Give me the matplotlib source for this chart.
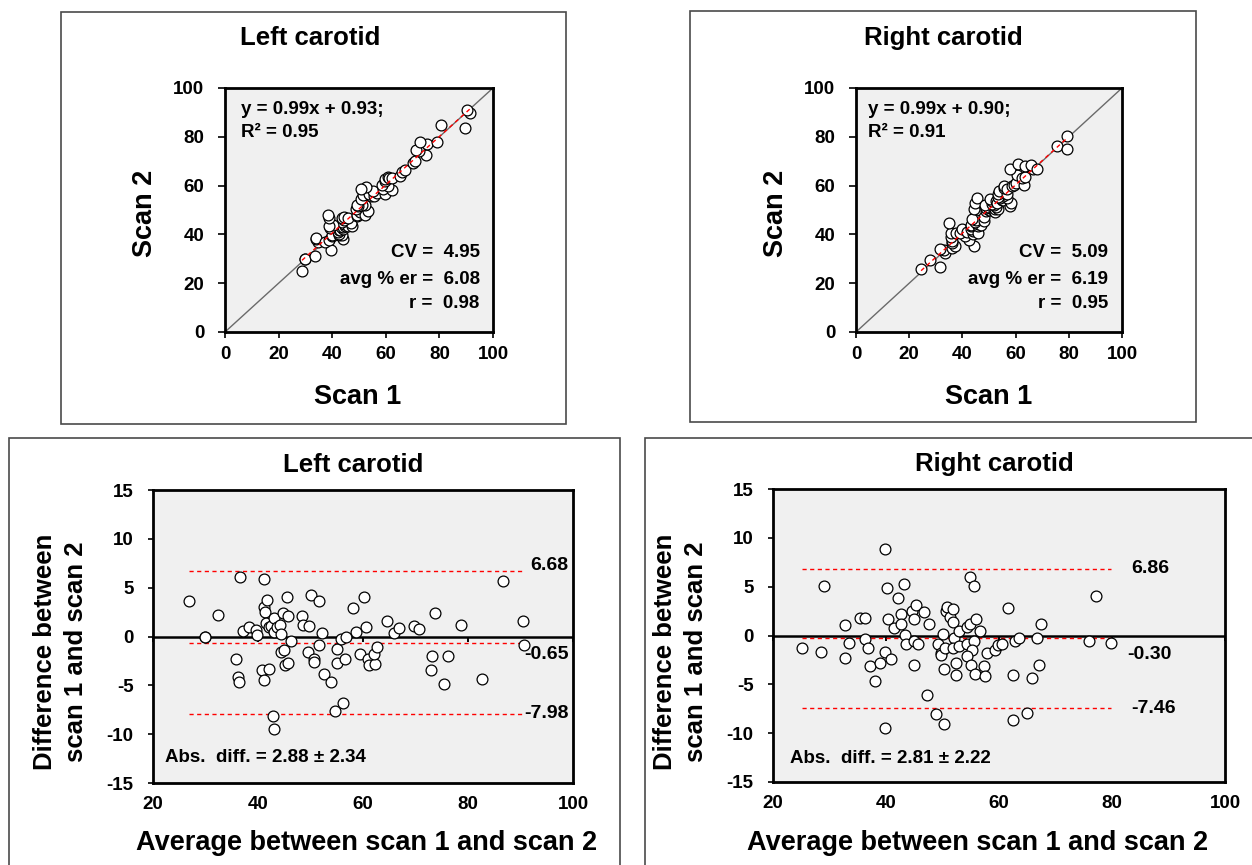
import matplotlib
matplotlib.use("Agg")
import matplotlib.pyplot as plt
import numpy as np
from matplotlib.patches import Rectangle

plt.rcParams['font.family'] = ['Liberation Sans', 'DejaVu Sans']
plt.rcParams['font.weight'] = 'bold'
plt.rcParams['axes.unicode_minus'] = False

# ---------------- data ----------------
# Bland-Altman coordinates: average of the two scans and difference (scan 1 - scan 2)
left_avg = [26.9, 29.9, 29.9, 32.3, 36.6, 35.8, 36.1, 36.4, 37.1, 38.3, 39.6, 39.9,
            41.1, 41.1, 41.7, 41.4, 41.6, 42.1, 42.5, 43.0, 43.1, 43.7, 44.1, 44.4,
            44.7, 45.5, 45.8, 44.3, 45.0, 40.8, 42.0, 41.2, 45.2, 45.8, 42.8, 43.1,
            46.3, 48.4, 48.6, 49.8, 50.0, 51.6, 52.2, 51.6, 49.5, 50.7, 50.6, 52.5,
            53.9, 55.1, 55.1, 55.8, 56.8, 56.5, 56.1, 54.6, 58.1, 58.7, 60.2, 60.5,
            59.5, 60.9, 61.2, 62.2, 62.1, 62.7, 64.6, 65.9, 66.8, 69.7, 70.6, 73.8,
            73.2, 76.2, 72.9, 75.4, 78.6, 82.7, 86.6, 90.5, 90.7]
left_diff = [3.68, 0.00, -0.10, 2.20, 6.12, -2.30, -4.16, -4.64, 0.58, 0.93, 0.65, 0.17,
             5.84, 3.06, 3.75, 2.54, 1.34, 0.93, 1.10, 1.89, 0.41, 0.93, 1.20, 0.24,
             2.37, 4.09, 2.06, -1.58, -1.41, -3.47, -3.30, -4.50, -2.92, -2.71, -8.10, -9.45,
             -0.45, 2.06, 1.17, 1.03, 4.26, 3.68, 0.31, -0.86, -1.58, -2.27, -2.58, -3.88,
             -4.64, -1.24, -2.75, -0.27, -0.10, -2.34, -6.80, -7.66, 2.92, 0.48, 4.09, 0.93,
             -1.82, -2.27, -2.92, -2.85, -1.82, -1.03, 1.62, 0.31, 0.82, 1.03, 0.76, 2.37,
             -1.99, -1.99, -3.47, -4.91, 1.20, -4.33, 5.67, 1.62, -0.86]

right_avg = [25.1, 28.5, 29.1, 32.8, 33.4, 32.8, 35.4, 36.2, 36.3, 36.8, 37.2, 38.1,
             39.0, 39.8, 40.1, 40.3, 39.8, 40.9, 41.4, 39.9, 42.1, 42.7, 42.7, 43.1,
             43.4, 43.6, 44.6, 44.9, 45.3, 44.9, 45.6, 45.0, 46.8, 47.6, 47.3, 48.9,
             50.2, 49.2, 50.1, 49.8, 49.8, 50.4, 50.2, 50.7, 50.8, 51.4, 51.9, 51.9,
             52.0, 51.8, 52.4, 52.4, 53.0, 52.9, 54.4, 54.8, 54.8, 55.6, 55.9, 54.4,
             55.5, 55.3, 54.4, 55.0, 55.7, 56.6, 57.3, 57.6, 57.8, 59.3, 59.9, 60.6,
             61.6, 62.4, 62.4, 62.8, 63.5, 64.9, 65.9, 66.8, 67.1, 67.4, 75.9, 77.2, 79.8]
right_diff = [-1.27, -1.72, 5.09, 1.03, -0.76, -2.30, 1.75, 1.82, -0.34, -1.27, -3.16, -4.64,
              -2.82, 8.87, 4.85, 1.65, -1.72, -2.41, 0.79, -9.52, 3.81, 2.23, 1.20, 5.26,
              0.03, -0.86, 2.51, 1.65, 3.09, -0.58, -0.86, -2.99, 2.41, 1.20, -6.08, -8.08,
              -9.11, -0.86, 0.17, -1.79, -1.96, -1.27, -3.44, 2.51, 2.92, 1.89, 2.68, 1.37,
              -0.24, -1.27, -2.82, -4.02, -1.10, 0.45, 0.86, 1.20, 5.95, 5.09, 1.65, -0.86,
              -0.52, -1.44, -2.13, -2.99, -3.92, 0.45, -3.16, -4.19, -1.79, -1.44, -0.93, -0.86,
              2.78, -4.02, -8.66, -0.52, -0.24, -7.97, -4.36, -0.24, -2.99, 1.13, -0.58, 4.06, -0.76]

# statistics printed on the chart
left_fit = (0.99, 0.93)
right_fit = (0.99, 0.90)
left_r2, right_r2 = 0.95, 0.91
left_cv, right_cv = 4.95, 5.09
left_err, right_err = 6.08, 6.19
left_r, right_r = 0.98, 0.95
left_limits = [6.68, -0.65, -7.98]
right_limits = [6.86, -0.30, -7.46]
left_abs = (2.88, 2.34)
right_abs = (2.81, 2.22)

scatter_ticks = [0, 20, 40, 60, 80, 100]
ba_xticks = [20, 40, 60, 80, 100]
ba_yticks = [-15, -10, -5, 0, 5, 10, 15]

# scan values underlying both views (scan1 - scan2 = diff, mean = avg)
def scans(avg, diff):
    a = np.asarray(avg)
    d = np.asarray(diff)
    return a + d / 2, a - d / 2

# ---------------- figure ----------------
W, H = 1252, 865
fig = plt.figure(figsize=(W / 100, H / 100), dpi=100)


def rect_px(x0, y0, x1, y1):
    return [x0 / W, 1 - y1 / H, (x1 - x0) / W, (y1 - y0) / H]


def fx(x):
    return x / W


def fy(y):
    return 1 - y / H


FRAME = '#4a4a4a'
BG = '#F0F0F0'
TICK_FS = 13.5
XLABEL_FS = 19.5
YLABEL_FS = 18.5
TITLE_FS = 18.5
NOTE_FS = 13.5


def frame(x0, y0, x1, y1):
    fig.add_artist(Rectangle((fx(x0), fy(y1)), (x1 - x0) / W, (y1 - y0) / H,
                             transform=fig.transFigure, fill=False,
                             ec=FRAME, lw=1.2, zorder=0))


def style_axes(ax):
    ax.set_facecolor(BG)
    for s in ax.spines.values():
        s.set_linewidth(2.0)
        s.set_color('black')


def scatter_panel(rect, avg, diff, fit, r2, cv, err, r, note_x0, note_x1,
                  title, title_xy, xlab_xy, ylab_xy):
    ax = fig.add_axes(rect_px(*rect))
    style_axes(ax)
    ax.set_xlim(0, 100)
    ax.set_ylim(0, 100)
    ax.set_xticks(scatter_ticks)
    ax.set_yticks(scatter_ticks)
    ax.tick_params(axis='y', direction='out', length=4.8, width=1.2,
                   labelsize=TICK_FS, pad=10)
    ax.tick_params(axis='x', direction='out', length=4.5, width=1.2,
                   labelsize=TICK_FS, pad=5.5)
    s1, s2 = scans(avg, diff)
    ends = [scatter_ticks[0], scatter_ticks[-1]]
    ax.plot(ends, ends, color='#6a6a6a', lw=1.0, zorder=1.5)
    xf = np.array([s1.min(), s1.max()])
    ax.plot(s1, s2, 'o', ms=7.8, mfc='white', mec='black', mew=0.9, zorder=2)
    ax.plot(xf, fit[0] * xf + fit[1], color='red', lw=1.0, dashes=(3, 2.5), zorder=3)
    ax.text(note_x0, 91, f"y = {fit[0]:.2f}x + {fit[1]:.2f};", ha='left', va='center',
            fontsize=NOTE_FS, fontweight='bold')
    ax.text(note_x0, 81.7, f"R² = {r2:.2f}", ha='left', va='center',
            fontsize=NOTE_FS, fontweight='bold')
    ax.text(note_x1, 32.5, f"CV =  {cv:.2f}", ha='right', va='center',
            fontsize=NOTE_FS, fontweight='bold')
    ax.text(note_x1, 21.5, f"avg % er =  {err:.2f}", ha='right', va='center',
            fontsize=NOTE_FS, fontweight='bold')
    ax.text(note_x1, 11.5, f"r =  {r:.2f}", ha='right', va='center',
            fontsize=NOTE_FS, fontweight='bold')
    fig.text(fx(title_xy[0]), fy(title_xy[1]), title, ha='center', va='baseline',
             fontsize=TITLE_FS, fontweight='bold')
    fig.text(fx(xlab_xy[0]), fy(xlab_xy[1]), "Scan 1", ha='center', va='baseline',
             fontsize=XLABEL_FS, fontweight='bold')
    fig.text(fx(ylab_xy[0]), fy(ylab_xy[1]), "Scan 2", ha='center', va='baseline',
             rotation=90, rotation_mode='anchor', fontsize=XLABEL_FS, fontweight='bold')
    return ax


def ba_panel(rect, avg, diff, limits, absd, label_pos, abs_pos,
             title, title_xy, xlab_xy, ylab_x):
    ax = fig.add_axes(rect_px(*rect))
    style_axes(ax)
    ax.set_xlim(ba_xticks[0], ba_xticks[-1])
    ax.set_ylim(ba_yticks[0], ba_yticks[-1])
    ax.set_xticks(ba_xticks)
    ax.set_yticks(ba_yticks)
    ax.tick_params(axis='y', direction='out', length=3.6, width=1.2,
                   labelsize=TICK_FS, pad=10.5)
    ax.tick_params(axis='x', length=0, labelsize=TICK_FS, pad=9.5)
    ax.axhline(0, color='black', lw=1.8, zorder=1.5)
    lo, hi = min(avg), max(avg)
    for v in limits:
        ax.plot([lo, hi], [v, v], color='red', lw=1.0, dashes=(3, 2.5), zorder=1.6)
    ax.plot(avg, diff, 'o', ms=7.8, mfc='white', mec='black', mew=0.9, zorder=2)
    # small ticks on the zero line (Excel axis crossing at 0)
    loc = (0 - ba_yticks[0]) / (ba_yticks[-1] - ba_yticks[0])
    sec = ax.secondary_xaxis(loc)
    sec.set_alignment('bottom')
    sec.set_xticks(ba_xticks)
    sec.tick_params(axis='x', direction='out', length=3.6, width=1.4,
                    labelbottom=False, labeltop=False)
    for s in sec.spines.values():
        s.set_visible(False)
    for v, (tx, ty) in zip(limits, label_pos):
        ax.text(tx, ty, f"{v:.2f}", ha='left', va='center',
                fontsize=NOTE_FS + 0.5, fontweight='bold')
    ax.text(abs_pos[0], abs_pos[1], f"Abs.  diff. = {absd[0]:.2f} ± {absd[1]:.2f}",
            ha='left', va='center', fontsize=NOTE_FS, fontweight='bold')
    fig.text(fx(title_xy[0]), fy(title_xy[1]), title, ha='center', va='baseline',
             fontsize=TITLE_FS, fontweight='bold')
    fig.text(fx(xlab_xy[0]), fy(xlab_xy[1]), "Average between scan 1 and scan 2",
             ha='center', va='baseline', fontsize=XLABEL_FS, fontweight='bold')
    fig.text(fx(ylab_x[0]), fy(652), "Difference between", ha='center', va='baseline',
             rotation=90, rotation_mode='anchor', fontsize=YLABEL_FS, fontweight='bold')
    fig.text(fx(ylab_x[1]), fy(652), "scan 1 and scan 2", ha='center', va='baseline',
             rotation=90, rotation_mode='anchor', fontsize=YLABEL_FS, fontweight='bold')
    return ax


# panel frames
frame(61, 12, 566, 424)
frame(690, 11, 1196, 422)
frame(9, 438, 620, 880)
frame(645, 438, 1270, 880)

scatter_panel((225, 88, 493, 332), left_avg, left_diff, left_fit, left_r2, left_cv,
              left_err, left_r, 5.9, 95.1, "Left carotid", (310, 45), (358, 404), (152, 213))
scatter_panel((856, 88, 1122, 332), right_avg, right_diff, right_fit, right_r2, right_cv,
              right_err, right_r, 4.5, 94.7, "Right carotid", (943, 45), (989, 404), (783, 213))

ba_panel((153, 490, 573, 783), left_avg, left_diff, left_limits, left_abs,
         [(91.8, 7.3), (90.7, -1.8), (90.7, -7.9)], (22.3, -12.4),
         "Left carotid", (353, 472), (367, 850), (52, 83))
ba_panel((773, 489, 1225, 782), right_avg, right_diff, right_limits, right_abs,
         [(83.4, 6.9), (82.7, -1.9), (83.4, -7.5)], (23.0, -12.6),
         "Right carotid", (994, 471), (978, 850), (672, 703))

fig.savefig("out.png", dpi=100, facecolor='white')
